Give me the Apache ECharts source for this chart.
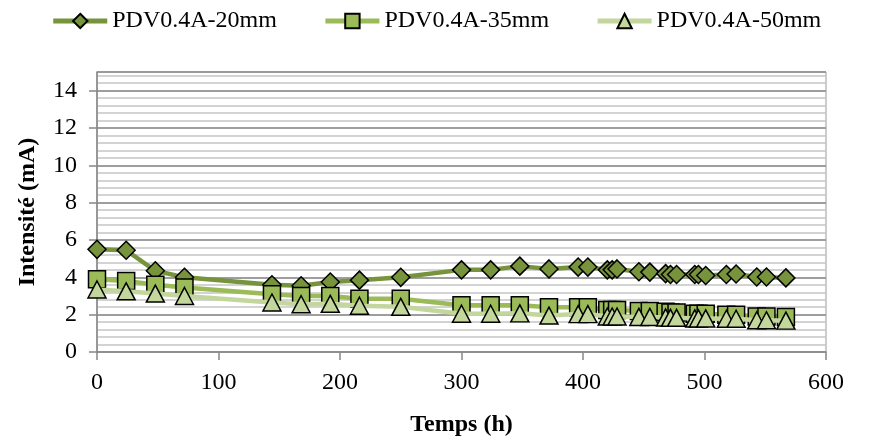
<!DOCTYPE html>
<html>
<head>
<meta charset="utf-8">
<script src="https://cdn.jsdelivr.net/npm/echarts@6/dist/echarts.min.js"></script>
<style>
html,body{margin:0;padding:0;background:#fff;}
#chart{width:872px;height:442px;}
</style>
</head>
<body>
<div id="chart"></div>
<script>
var seriesNames = ['PDV0.4A-20mm', 'PDV0.4A-35mm', 'PDV0.4A-50mm'];
var hours = [0, 24, 48, 72, 144, 168, 192, 216, 250, 300, 324, 348, 372, 396, 404, 420, 424, 428, 446, 455, 468, 472, 477, 492, 495, 501, 518, 526, 543, 551, 567];
var i20mm = [5.5, 5.45, 4.35, 4.0, 3.6, 3.55, 3.75, 3.85, 4.0, 4.4, 4.4, 4.6, 4.45, 4.55, 4.55, 4.4, 4.4, 4.45, 4.3, 4.28, 4.2, 4.15, 4.15, 4.15, 4.15, 4.1, 4.15, 4.18, 4.02, 4.02, 3.97];
var i35mm = [3.9, 3.8, 3.6, 3.45, 3.1, 3.0, 3.0, 2.85, 2.85, 2.5, 2.5, 2.5, 2.4, 2.4, 2.4, 2.25, 2.25, 2.25, 2.2, 2.2, 2.15, 2.12, 2.12, 2.05, 2.05, 2.05, 2.0, 2.0, 1.9, 1.9, 1.88];
var i50mm = [3.35, 3.25, 3.13, 3.0, 2.65, 2.56, 2.58, 2.48, 2.42, 2.05, 2.05, 2.07, 1.95, 2.03, 2.03, 1.9, 1.9, 1.9, 1.88, 1.88, 1.85, 1.83, 1.83, 1.8, 1.8, 1.8, 1.78, 1.78, 1.7, 1.7, 1.68];
var xTicks = [0, 100, 200, 300, 400, 500, 600];
var yTicks = [0, 2, 4, 6, 8, 10, 12, 14];

function pairs(vals) { return hours.map(function (h, i) { return [h, vals[i]]; }); }

var FONT = 'Liberation Serif';
var colors = ['#77933C', '#9BBB59', '#C3D69B'];
var symbols = ['diamond', 'rect', 'triangle'];
var sizes = [[18, 18], [17, 17], [18, 17]];
var values = [i20mm, i35mm, i50mm];

var chart = echarts.init(document.getElementById('chart'), null, {renderer: 'canvas'});
chart.setOption({
  animation: false,
  backgroundColor: '#fff',
  legend: {
    top: 4, left: 'center',
    itemWidth: 54, itemHeight: 18, itemGap: 46,
    lineStyle: {width: 5},
    textStyle: {fontFamily: FONT, fontSize: 24, color: '#000'},
    data: seriesNames
  },
  grid: {left: 97, right: 46, top: 72, bottom: 86, show: true, borderColor: '#9a9a9a', borderWidth: 1},
  xAxis: {
    type: 'value', min: 0, max: 600, interval: 100,
    name: 'Temps (h)', nameLocation: 'middle', nameGap: 61,
    nameTextStyle: {fontFamily: FONT, fontSize: 24, fontWeight: 'bold', color: '#000'},
    axisLine: {show: true, lineStyle: {color: '#868686', width: 1.5}},
    axisTick: {show: true, inside: false, length: 8, lineStyle: {color: '#868686', width: 1.5}},
    axisLabel: {fontFamily: FONT, fontSize: 24, color: '#000', margin: 19,
      formatter: function (v) { return xTicks.indexOf(v) >= 0 ? String(v) : ''; }},
    splitLine: {show: false}
  },
  yAxis: [{
    type: 'value', min: 0, max: 15, interval: 2, z: 1,
    name: 'Intensité (mA)', nameLocation: 'middle', nameGap: 57, nameRotate: 90,
    nameTextStyle: {fontFamily: FONT, fontSize: 24, fontWeight: 'bold', color: '#000'},
    axisLine: {show: true, lineStyle: {color: '#868686', width: 1.5}},
    axisTick: {show: true, inside: false, length: 8, lineStyle: {color: '#868686', width: 1.5}},
    axisLabel: {fontFamily: FONT, fontSize: 24, color: '#000', margin: 20, showMaxLabel: false,
      formatter: function (v) { return yTicks.indexOf(v) >= 0 ? String(v) : ''; }},
    splitLine: {show: true, lineStyle: {color: '#8c8c8c', width: 1.5}}
  }, {
    type: 'value', min: 0, max: 15, interval: 0.4, position: 'left', z: 0,
    axisLine: {show: false}, axisTick: {show: false}, axisLabel: {show: false},
    splitLine: {show: true, lineStyle: {color: '#c4c4c4', width: 1.5}}
  }],
  series: seriesNames.map(function (name, k) {
    return {
      name: name, type: 'line', yAxisIndex: 0, z: 3 + k,
      data: pairs(values[k]),
      symbol: symbols[k], symbolSize: sizes[k],
      showAllSymbol: true,
      lineStyle: {color: colors[k], width: 4.5},
      itemStyle: {color: colors[k], borderColor: '#000', borderWidth: 1.5}
    };
  })
});
</script>
</body>
</html>
